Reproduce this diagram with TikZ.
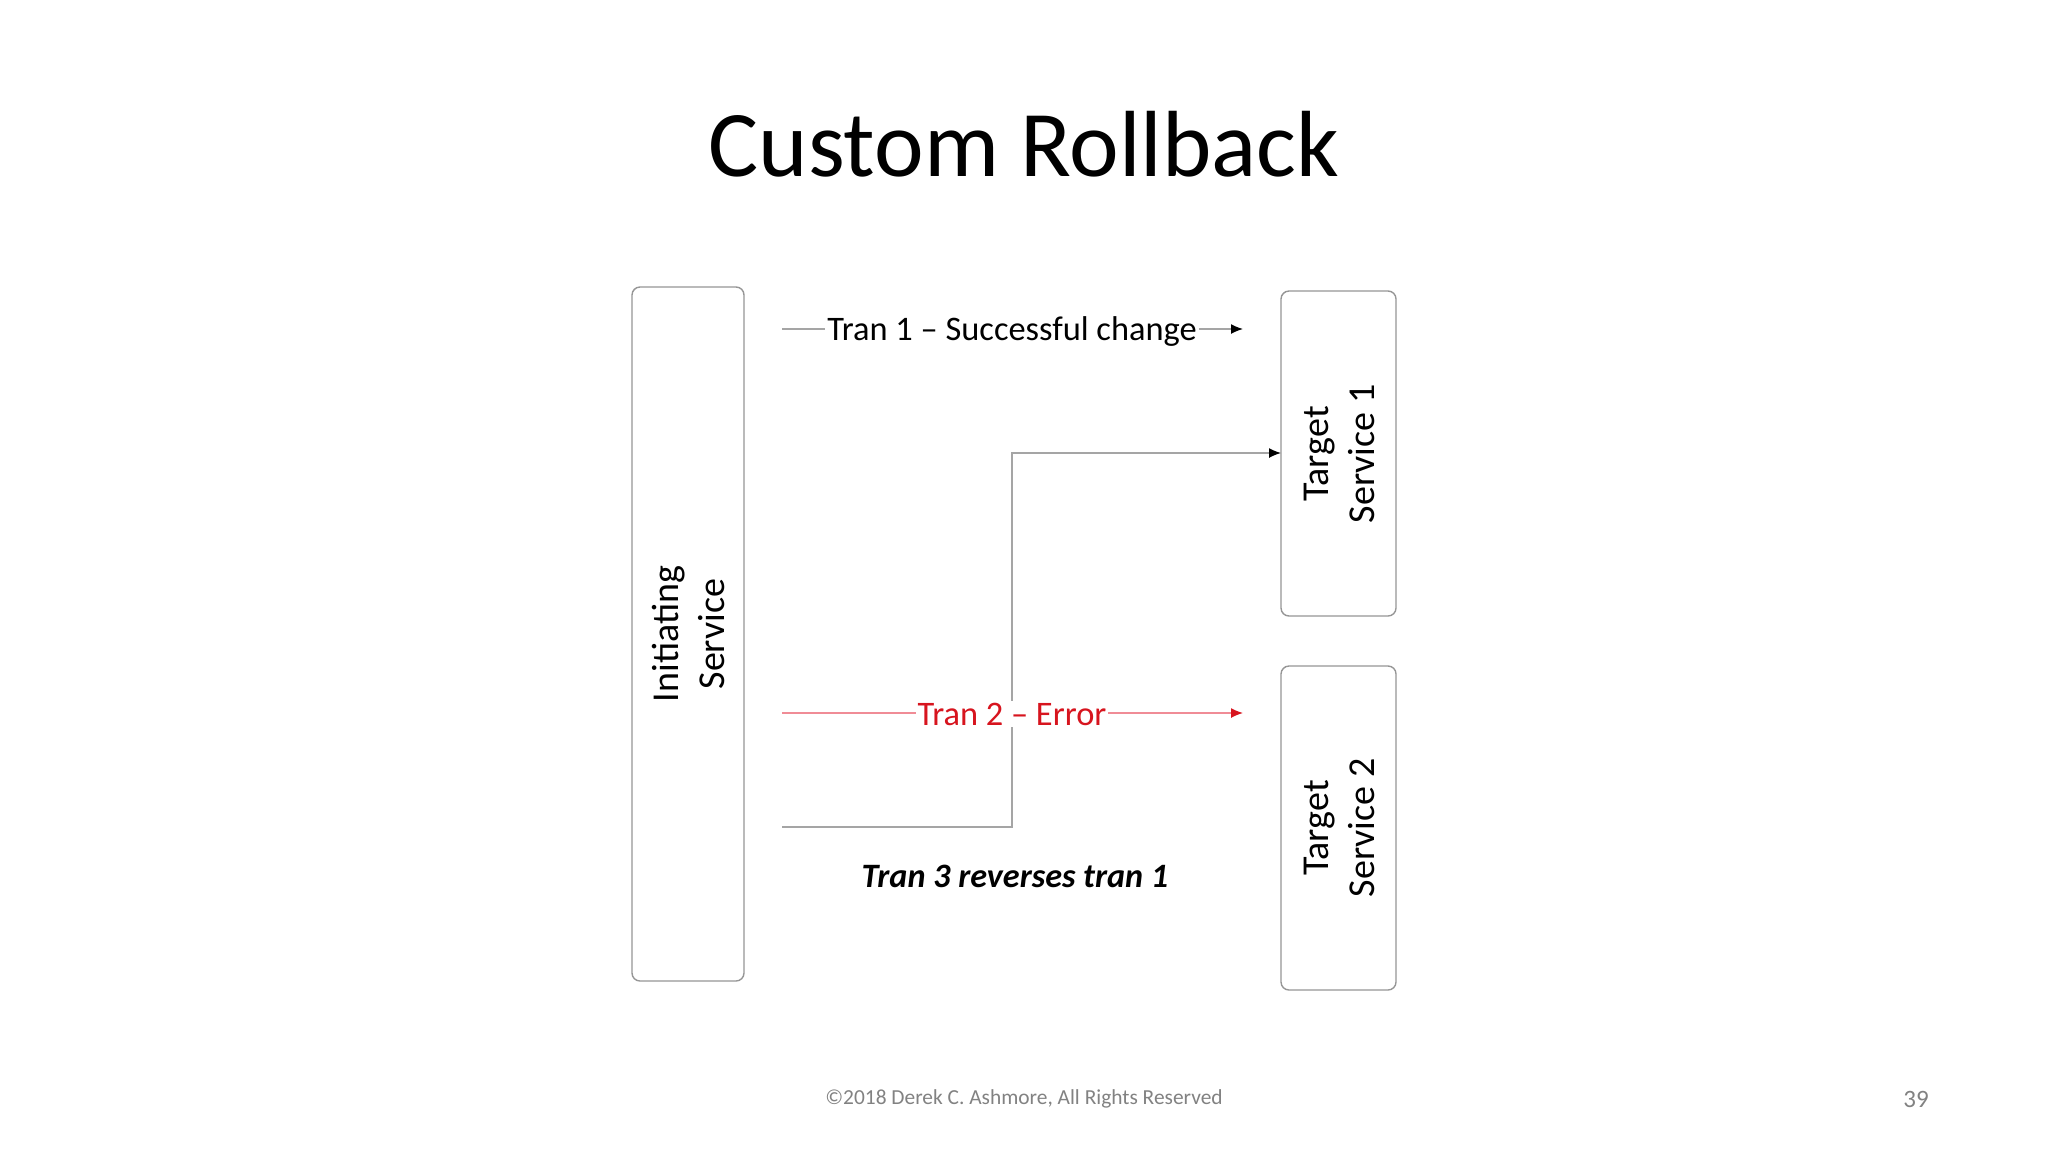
\documentclass[tikz,border=0pt]{standalone}
\usepackage{fontspec}
\setmainfont{Carlito}
\usetikzlibrary{arrows.meta}
\definecolor{linegray}{RGB}{165,165,165}
\definecolor{boxgray}{RGB}{150,150,150}
\definecolor{errred}{RGB}{215,20,30}
\definecolor{errline}{RGB}{240,140,150}
\definecolor{footgray}{RGB}{130,130,130}
\tikzset{
  lbl/.style={font=\fontsize{19}{23}\selectfont, align=center},
  conn/.style={draw=linegray, line width=0.7pt, -{Latex[color=black,length=6pt,width=5pt]}},
  errconn/.style={draw=errline, line width=0.7pt, -{Latex[color=errred,length=6pt,width=5pt]}},
  onlinelbl/.style={fill=white, inner sep=1pt, font=\fontsize{17.2}{21}\selectfont},
  boxline/.style={draw=boxgray, line width=0.7pt, rounded corners=4pt}
}
\begin{document}
\begin{tikzpicture}[x=0.5pt,y=-0.5pt]
\useasboundingbox[fill=white] (0,0) rectangle (2048,1152);
% title
\node[font=\fontsize{47}{56}\selectfont] (title) at (1024,144) {Custom Rollback};
% boxes
\draw[boxline] (632,287) rectangle (744,981);
\node[rotate=90, lbl] (initlbl) at (688,634) {Initiating\\Service};
\draw[boxline] (1281,291) rectangle (1396,616);
\coordinate (ts1w) at (1281,453);
\node[rotate=90, lbl] (ts1lbl) at (1339,454) {Target\\Service 1};
\draw[boxline] (1281,666) rectangle (1396,990);
\node[rotate=90, lbl] (ts2lbl) at (1339,828) {Target\\Service 2};
% tran 1
\coordinate (t1s) at (782,329);
\coordinate (t1e) at (1243,329);
\draw[conn] (t1s) -- (t1e);
\node[onlinelbl] (t1lbl) at (1012,332) {Tran 1 – Successful change};
% tran 2
\coordinate (t2s) at (782,713);
\coordinate (t2e) at (1243,713);
\draw[errconn] (t2s) -- (t2e);
% tran 3 elbow
\coordinate (t3s) at (782,827);
\coordinate (t3m) at (1012,827);
\draw[conn] (t3s) -- (t3m) |- (ts1w);
\node[onlinelbl, text=errred] (t2lbl) at (1012,714) {Tran 2 – Error};
\node[font=\fontsize{17.1}{21}\selectfont\bfseries\itshape] (t3lbl) at (1015,876) {Tran 3 reverses tran 1};
% footer
\node[font=\fontsize{10.7}{13}\selectfont, text=footgray] (foot) at (1024,1099) {©2018 Derek C. Ashmore, All Rights Reserved};
\node[font=\fontsize{12.5}{15}\selectfont, text=footgray] (pnum) at (1916,1099) {39};
\end{tikzpicture}
\end{document}
